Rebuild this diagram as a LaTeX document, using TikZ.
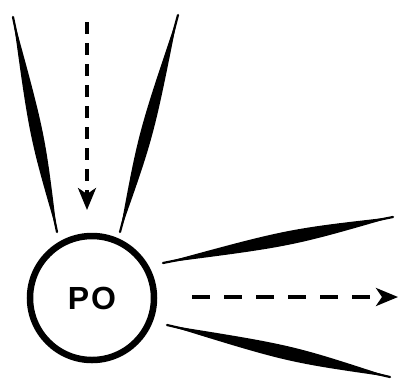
\documentclass[tikz,border=0pt]{standalone}
\usepackage{fontspec}
\setmainfont{Liberation Sans}
\usetikzlibrary{calc,arrows.meta}
\tikzset{
  dasharrow/.style={line width=3.4pt, dash pattern=on 12pt off 9pt, -{Stealth[length=22pt,width=18pt,inset=6pt]}},
  hdasharrow/.style={line width=3.6pt, dash pattern=on 18pt off 14pt, -{Stealth[length=22pt,width=18pt,inset=6pt]}},
  ring/.style={circle, draw, line width=6.5pt, minimum size=124pt, inner sep=0pt, font=\fontsize{32}{34}\selectfont\bfseries}
}
\newcommand{\taperstroke}[3]{%
  \fill ($(#1)$) .. controls ($(#1)!0.55!(#2)!#3!90:(#2)$) .. ($(#2)$)
        .. controls ($(#1)!0.55!(#2)!#3!-90:(#2)$) .. ($(#1)$) -- cycle;
  \draw[line width=2.2pt, line cap=round] ($(#1)$) -- ($(#2)$);}
\begin{document}
\begin{tikzpicture}[x=1pt,y=-1pt]
\useasboundingbox (0,0) rectangle (406,381);
\node[ring] (po) at (92,298) {P\kern2pt O};
% stroke endpoints
\coordinate (l1) at (13,17);
\coordinate (l2) at (57,232);
\coordinate (r1) at (178,15);
\coordinate (r2) at (120,232);
\coordinate (u1) at (163,263);
\coordinate (u2) at (393,217);
\coordinate (d1) at (167,325);
\coordinate (d2) at (390,377);
\taperstroke{l1}{l2}{8pt}
\taperstroke{r1}{r2}{8pt}
\taperstroke{u1}{u2}{9pt}
\taperstroke{d1}{d2}{9pt}
% dashed arrows
\coordinate (vs) at (87,22);
\coordinate (ve) at (87,210);
\draw[dasharrow] (vs) -- (ve);
\coordinate (hs) at (192,297);
\coordinate (he) at (398,297);
\draw[hdasharrow] (hs) -- (he);
\end{tikzpicture}
\end{document}
